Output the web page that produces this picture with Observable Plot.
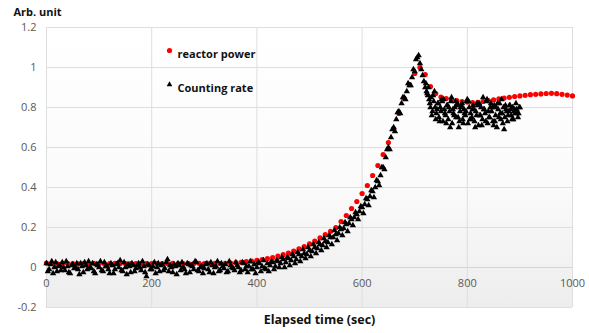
<!DOCTYPE html>
<html><head><meta charset="utf-8">
<script src="https://cdn.jsdelivr.net/npm/d3@7"></script>
<script src="https://cdn.jsdelivr.net/npm/@observablehq/plot@0.6"></script>
<style>body{margin:0;background:#fff;} svg{display:block;}</style>
</head><body><div id="chart"></div>
<script>
// reactor power, sampled every 10 s from t = 0
const powerStart = 0, powerStep = 10;
const reactorPower = [
  0.022,0.02,0.019,0.02,0.021,0.02,0.018,0.02,0.02,0.021,      // 0-90
  0.02,0.019,0.02,0.021,0.02,0.02,0.019,0.02,0.021,0.02,       // 100-190
  0.02,0.02,0.019,0.02,0.021,0.02,0.02,0.019,0.02,0.021,       // 200-290
  0.02,0.02,0.021,0.02,0.021,0.022,                            // 300-350
  0.024,0.026,0.029,0.032,0.036,0.04,0.045,0.05,0.057,0.064,   // 360-450
  0.072,0.082,0.093,0.105,0.118,0.132,0.148,0.164,0.181,0.2,   // 460-550
  0.23,0.26,0.295,0.33,0.37,0.41,0.46,0.51,0.565,0.625,        // 560-650
  0.695,0.77,0.845,0.915,0.97,1.0,0.965,0.905,0.87,0.852,      // 660-750
  0.845,0.84,0.835,0.83,0.827,0.825,0.826,0.83,0.834,0.838,    // 760-850
  0.843,0.847,0.851,0.855,0.858,0.861,0.864,0.866,0.868,0.87,  // 860-950
  0.871,0.869,0.866,0.862,0.858                                // 960-1000
];
// counting rate, samples at t = 0, 5, 10, ... 900 s
const countStartA = 0, countStep = 5;
const countingRateA = [
  0.02,-0.01,0.03,0.0,-0.02,0.01,0.025,-0.015,0.005,-0.03,0.015,0.0,-0.01,0.02,-0.025,0.01,0.03,-0.005,-0.02,0.015,   // 0-95
  0.0,-0.015,0.025,0.005,-0.03,0.01,-0.01,0.02,0.035,-0.02,0.0,0.015,-0.025,0.01,-0.005,0.02,-0.015,0.005,-0.045,0.01, // 100-195
  -0.01,0.025,0.0,-0.02,0.015,-0.005,0.04,0.01,-0.025,0.005,0.02,-0.015,0.0,-0.03,0.015,0.01,-0.01,0.025,-0.02,0.005,  // 200-295
  -0.005,0.02,-0.025,0.01,0.0,0.03,-0.015,0.005,0.015,-0.02,0.01,-0.005,0.025,0.0,-0.015,0.02,0.005,                   // 300-380
  0.005,-0.01,0.015,0.0,0.02,0.005,-0.005,0.02,0.01,0.025,0.005,0.03,0.02,0.04,0.025,0.045,0.035,0.055,0.04,0.065,     // 385-480
  0.055,0.07,0.065,0.085,0.08,0.1,0.095,0.115,0.11,0.13,0.125,0.15,0.15,0.165,0.17,0.19,0.195,0.215,0.22,0.24,         // 485-580
  0.25,0.265,0.28,0.3,0.315,0.34,0.355,0.38,0.4,0.43,0.46,0.5,0.55,0.6,0.65,0.7,0.74,0.78,0.82,0.85,                   // 585-680
  0.88,0.91,0.95,0.98,                                                                                                // 685-700
  1.05,1.02,0.96,0.9,0.86,0.8,                                                                                        // 705-730
  0.86,0.74,0.82,0.78,0.84,0.72,0.8,0.85,0.76,0.81,                                                                   // 735-780
  0.73,0.82,0.77,0.84,0.74,0.79,0.7,0.81,0.76,0.85,                                                                   // 785-830
  0.73,0.78,0.82,0.71,0.8,0.75,0.84,0.69,0.78,0.81,                                                                   // 835-880
  0.74,0.79,0.77,0.8                                                                                                  // 885-900
];
// counting rate, samples at t = 2.5, 7.5, ... 897.5 s
const countStartB = 2.5;
const countingRateB = [
  -0.02,0.015,-0.03,0.025,0.005,-0.015,0.0,0.03,-0.025,0.01,-0.005,0.02,-0.035,0.005,0.025,-0.01,0.0,0.02,-0.03,0.01,   // 2.5-97.5
  0.03,-0.02,0.005,-0.01,0.02,-0.03,0.015,0.0,-0.015,0.025,-0.035,0.005,0.02,-0.02,0.01,0.0,0.03,-0.025,0.015,-0.01,   // 102.5-197.5
  0.005,-0.03,0.02,0.01,-0.015,0.025,-0.02,0.0,0.015,-0.035,0.01,0.025,-0.01,0.02,-0.025,0.005,0.03,-0.015,0.0,-0.03,  // 202.5-297.5
  0.015,-0.01,0.025,-0.03,0.005,-0.02,0.02,-0.005,-0.025,0.03,0.0,-0.015,0.01,-0.025,0.025,-0.01,                      // 302.5-377.5
  -0.025,0.03,-0.01,-0.03,0.025,-0.02,0.035,-0.01,-0.02,0.03,-0.01,0.035,0.0,0.05,0.0,0.05,0.01,0.065,0.02,0.075,      // 382.5-477.5
  0.03,0.09,0.045,0.1,0.055,0.115,0.07,0.125,0.085,0.145,0.1,0.16,0.115,0.185,0.135,0.2,0.16,0.225,0.18,0.25,          // 482.5-577.5
  0.21,0.275,0.24,0.305,0.27,0.345,0.31,0.385,0.35,0.435,0.41,0.5,0.49,0.59,0.59,0.69,0.68,0.775,0.77,0.85,            // 582.5-677.5
  0.84,0.92,0.91,0.99,                                                                                                // 682.5-697.5
  1.04,1.06,0.99,0.93,0.88,0.84,                                                                                      // 702.5-727.5
  0.76,0.88,0.79,0.73,0.83,0.77,0.81,0.7,0.79,0.83,                                                                   // 732.5-777.5
  0.75,0.8,0.72,0.78,0.83,0.74,0.79,0.76,0.82,0.71,                                                                   // 782.5-827.5
  0.79,0.84,0.75,0.8,0.73,0.82,0.77,0.72,0.81,0.76,                                                                   // 832.5-877.5
  0.79,0.74,0.82,0.77                                                                                                 // 882.5-897.5
];
// counting rate after the peak, samples at t = 721.25, 723.75, ... 898.75 s
const countStartC = 721.25, countStepC = 2.5;
const countingRateC = [
  0.92,0.87,0.9,0.82,0.85,0.78,0.83,0.8,                       // 721.25-738.75
  0.77,0.82,0.75,0.8,0.84,0.73,0.79,0.76,0.81,0.74,            // 741.25-763.75
  0.78,0.83,0.72,0.77,0.8,0.75,0.82,0.7,0.78,0.81,             // 766.25-788.75
  0.74,0.79,0.76,0.83,0.72,0.8,0.77,0.75,0.81,0.73,            // 791.25-813.75
  0.78,0.82,0.71,0.76,0.8,0.74,0.79,0.77,0.83,0.72,            // 816.25-838.75
  0.75,0.8,0.78,0.73,0.81,0.76,0.7,0.79,0.82,0.74,             // 841.25-863.75
  0.77,0.8,0.75,0.79,0.73,0.78,0.81,0.76,0.8,0.78,             // 866.25-888.75
  0.77,0.79,0.75,0.8                                           // 891.25-898.75
];
const seriesNames = ["reactor power", "Counting rate"];
const seriesColors = ["#ff0000", "#000000"];
const xTicks = [0, 200, 400, 600, 800, 1000];
const xTickLabels = ["0", "200", "400", "600", "800", "1000"];
const yTicks = [-0.2, 0, 0.2, 0.4, 0.6, 0.8, 1, 1.2];
const yTickLabels = ["-0.2", "0", "0.2", "0.4", "0.6", "0.8", "1", "1.2"];
const xTitle = "Elapsed time (sec)";
const yTitle = "Arb. unit";

const powerData = reactorPower.map((v, i) => ({t: powerStart + i * powerStep, v}));
const countData = [
  ...countingRateA.map((v, i) => ({t: countStartA + i * countStep, v})),
  ...countingRateB.map((v, i) => ({t: countStartB + i * countStep, v})),
  ...countingRateC.map((v, i) => ({t: countStartC + i * countStepC, v}))
].sort((a, b) => a.t - b.t);
const xTickData = xTicks.map((t, i) => ({t, label: xTickLabels[i]}));

const font = "'Open Sans', 'Liberation Sans', sans-serif";

const chart = Plot.plot({
  width: 589,
  height: 333,
  marginLeft: 46,
  marginRight: 17,
  marginTop: 27,
  marginBottom: 26,
  style: {fontFamily: font, background: "#fff", overflow: "visible"},
  x: {domain: [0, 1000], axis: null},
  y: {domain: [-0.2, 1.2], axis: null},
  marks: [
    Plot.frame({fill: "url(#plotGrad)", stroke: null}),
    Plot.ruleY(yTicks, {stroke: "#dedede", strokeWidth: 1}),
    Plot.ruleX(xTicks, {stroke: "#dedede", strokeWidth: 1}),
    Plot.ruleY([0], {stroke: "#d4d4d4", strokeWidth: 1.2}),
    Plot.axisY({ticks: yTicks, tickFormat: d => yTickLabels[yTicks.indexOf(d)], tickSize: 0, tickPadding: 10, label: null, fontSize: 11, fill: "#595959"}),
    Plot.text(xTickData, {x: "t", y: () => 0, dy: 16, text: "label", fontSize: 11, fill: "#595959"}),
    Plot.dot(powerData, {x: "t", y: "v", r: 2.6, fill: seriesColors[0], stroke: null}),
    Plot.dot(countData, {x: "t", y: "v", symbol: "triangle", r: 2.35, fill: seriesColors[1], stroke: null}),
    // legend
    Plot.dot([seriesNames[0]], {frameAnchor: "top-left", dx: 123, dy: 23, r: 2.6, fill: seriesColors[0]}),
    Plot.text([seriesNames[0]], {frameAnchor: "top-left", dx: 131, dy: 23, text: d => d, textAnchor: "start", fontSize: 11, fontWeight: "bold", fill: "#111"}),
    Plot.dot([seriesNames[1]], {frameAnchor: "top-left", dx: 123, dy: 57, symbol: "triangle", r: 2.1, fill: seriesColors[1]}),
    Plot.text([seriesNames[1]], {frameAnchor: "top-left", dx: 131, dy: 57, text: d => d, textAnchor: "start", fontSize: 11, fontWeight: "bold", fill: "#111"}),
    // titles
    Plot.text([yTitle], {frameAnchor: "top-left", dx: -33, dy: -19, text: d => d, textAnchor: "start", fontSize: 11, fontWeight: "bold", fill: "#111"}),
    Plot.text([xTitle], {frameAnchor: "bottom", dx: 10, dy: 16, text: d => d, fontSize: 12.5, fontWeight: "bold", fill: "#111"})
  ]
});

const svg = d3.select(chart);
const defs = svg.insert("defs", ":first-child");
const grad = defs.append("linearGradient").attr("id", "plotGrad").attr("x1", 0).attr("y1", 0).attr("x2", 0).attr("y2", 1);
grad.append("stop").attr("offset", "0%").attr("stop-color", "#ffffff");
grad.append("stop").attr("offset", "55%").attr("stop-color", "#fbfbfb");
grad.append("stop").attr("offset", "100%").attr("stop-color", "#ededed");
document.getElementById("chart").appendChild(chart);
</script>
</body></html>
